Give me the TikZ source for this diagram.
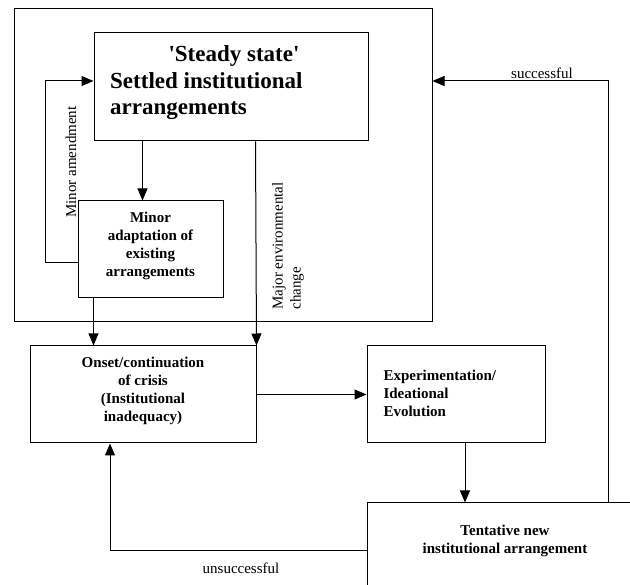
\documentclass[tikz,border=0pt]{standalone}
\usepackage{fontspec}
\setmainfont{Liberation Serif}
\usetikzlibrary{arrows.meta}
\begin{document}
\begin{tikzpicture}[x=1pt,y=-1pt,
  box/.style={draw,line width=1pt,rectangle,inner sep=0pt},
  boxtext/.style={font=\fontsize{15}{18}\selectfont\bfseries,align=center},
  lbl/.style={font=\fontsize{15}{18}\selectfont},
  conn/.style={line width=1pt},
  arr/.style={conn,-{Triangle[length=12pt,width=10pt]}}]
\useasboundingbox (0,0) rectangle (630,585);

% frame around the stable regime
\node[box,minimum width=418pt,minimum height=313pt] (outer) at (223,165.5) {};

% settled arrangements
\node[box,minimum width=274pt,minimum height=108pt] (steady) at (231,87) {};
\node[font=\fontsize{23}{26.5}\selectfont\bfseries] (steadytitle) at (234,56) {\textquotesingle Steady state\textquotesingle};
\node[font=\fontsize{23}{26.5}\selectfont\bfseries,align=left,anchor=west,inner sep=0pt] (steadybody) at (110,96) {Settled institutional\\arrangements};

% minor adaptation
\node[box,minimum width=145pt,minimum height=97pt] (minor) at (150.5,249.5) {};
\node[boxtext] (minortext) at (150.5,246) {Minor\\adaptation of\\existing\\arrangements};

% crisis
\node[box,minimum width=226pt,minimum height=97pt] (onset) at (143,394.5) {};
\node[boxtext] (onsettext) at (143,391) {Onset/continuation\\of crisis\\(Institutional\\inadequacy)};

% experimentation
\node[box,minimum width=178pt,minimum height=97pt] (exp) at (456,394.5) {};
\node[boxtext,align=left,anchor=west] (exptext) at (380,393) {Experimentation/\\Ideational\\Evolution};

% tentative arrangement
\node[box,minimum width=278pt,minimum height=102pt] (tent) at (506,554) {};
\node[boxtext] (tenttext) at (505,541) {Tentative new\\institutional arrangement};

% connectors
\draw[arr] ([xshift=49pt]steady.south west) -- ([xshift=65pt]minor.north west);
\draw[arr] ([yshift=36pt]minor.south west) -- ++(-32,0) |- ([yshift=6pt]steady.west);
\draw[arr] ([xshift=16pt]minor.south west) coordinate (m1) -- (m1 |- onset.north);
\draw[arr] ([xshift=162pt]steady.south west) -- (onset.north east);
\draw[arr] (onset.east) -- (exp.west);
\draw[arr] ([xshift=9pt]exp.south) coordinate (e1) -- (e1 |- tent.north);
\draw[arr] ([xshift=242pt]tent.north west) |- ([yshift=84.5pt]outer.east);
\draw[arr] ([yshift=3pt]tent.west) -| ([xshift=-33pt]onset.south);

% labels
\node[lbl] (lsucc) at (542,73) {successful};
\node[lbl] (lunsucc) at (241,568) {unsuccessful};
\node[lbl,rotate=90] (lminor) at (71,162) {Minor amendment};
\node[lbl,rotate=90,align=left] (lmajor) at (288,246) {Major environmental\\change};
\end{tikzpicture}
\end{document}
